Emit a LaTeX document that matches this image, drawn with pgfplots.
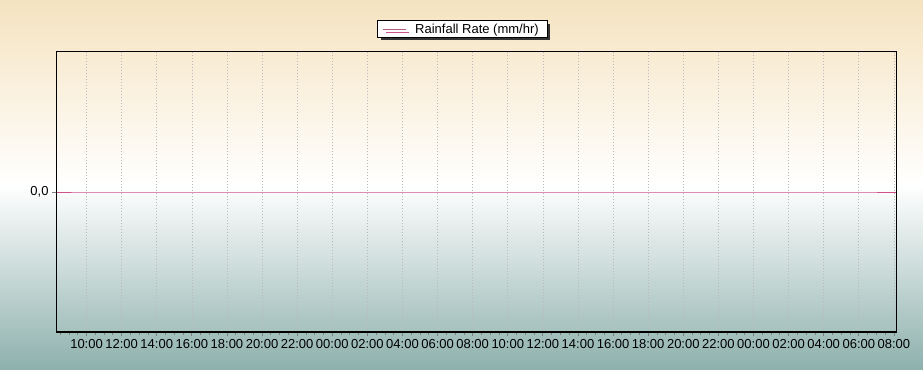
\documentclass[border=0pt]{standalone}
\usepackage{pgfplots}
\pgfplotsset{compat=1.18}
\usepackage{fontspec}
\setmainfont{Liberation Sans}
\usetikzlibrary{shadows}
\definecolor{bgtop}{RGB}{245,227,192}
\definecolor{bgbot}{RGB}{142,177,173}
\definecolor{rain}{RGB}{208,80,140}
\definecolor{legline}{RGB}{180,90,130}
\begin{document}
\begin{tikzpicture}[x=1bp,y=1bp]
\shade[top color=bgtop, bottom color=bgbot, middle color=white] (0,0) rectangle (923,369);
\useasboundingbox (0,0) rectangle (923,369);
\begin{axis}[
  at={(56bp,37bp)}, anchor=south west,
  width=840bp, height=280bp, scale only axis,
  xmin=8.26, xmax=56.12, ymin=-1, ymax=1,
  xtick={10,12,...,56},
  xticklabels={10:00,12:00,14:00,16:00,18:00,20:00,22:00,00:00,02:00,04:00,06:00,08:00,10:00,12:00,14:00,16:00,18:00,20:00,22:00,00:00,02:00,04:00,06:00,08:00},
  minor xtick={8.5,9.0,...,56.0},
  ytick={0}, yticklabels={\mbox{0,0}},
  xtick pos=bottom, ytick pos=left,
  xmajorgrids, major x grid style={gray!55, line width=0.7bp, dash pattern=on 1bp off 2bp},
  tick align=outside, major tick length=4bp, minor tick length=3bp,
  tick style={gray, line width=0.8bp},
  axis line style={black, line width=1bp},
  ticklabel style={font=\fontsize{13bp}{15bp}\selectfont},
  legend style={at={(0.484,1)}, anchor=south, yshift=14bp,
    draw=black, line width=1bp, fill=white,
    drop shadow={shadow xshift=3bp, shadow yshift=-3bp, fill=black!80, opacity=1},
    font=\fontsize{13bp}{15bp}\selectfont, inner xsep=5bp, inner ysep=1bp,
    nodes={inner xsep=3.5bp, inner ysep=2bp}},
  legend cell align=left,
  legend image code/.code={\draw[legline, line width=0.8bp] (0bp,0bp) -- (23bp,0bp); \path (28bp,0bp);},
]
\addplot[rain, line width=0.8bp] coordinates {
(8.26,0) (10,0) (14,0) (18,0) (22,0) (26,0) (30,0) (34,0) (38,0) (42,0) (46,0) (50,0) (54,0) (56.12,0)
};
\addlegendentry{Rainfall Rate (mm/hr)}
\draw[black, line width=2.5bp] (rel axis cs:0,1) -- (rel axis cs:0,0);
\draw[black, line width=2bp] (rel axis cs:0,0) -- (rel axis cs:1,0);
\end{axis}
\end{tikzpicture}
\end{document}
